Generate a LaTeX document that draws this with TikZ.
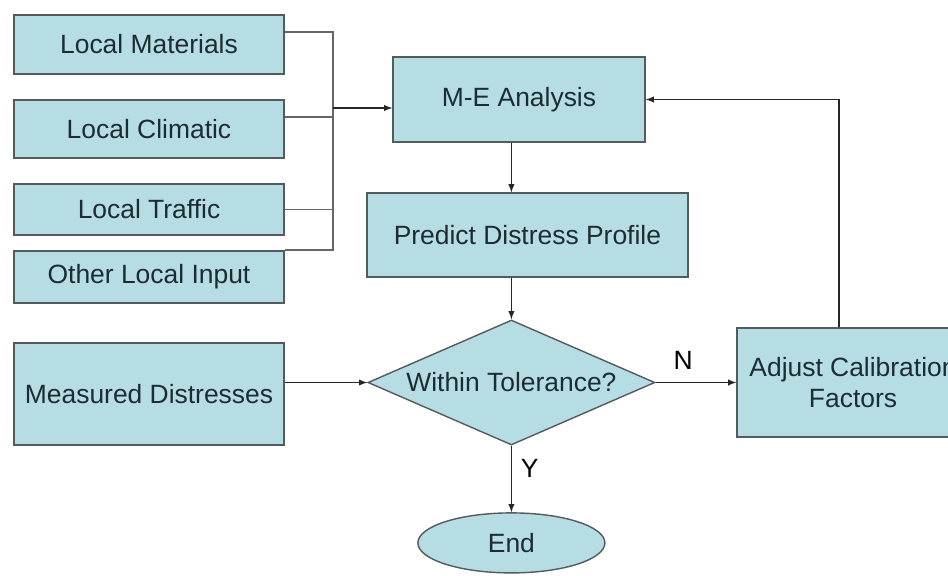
\documentclass[tikz,border=0pt]{standalone}
\usepackage{fontspec}
\setmainfont{Liberation Sans}
\usetikzlibrary{shapes.geometric,positioning}

\definecolor{boxfill}{RGB}{183,221,228}
\definecolor{boxline}{RGB}{85,90,92}
\definecolor{boxtext}{RGB}{28,44,50}

\tikzset{
	box/.style={draw=boxline,fill=boxfill,line width=1pt,text=boxtext,inner sep=0pt,align=center},
	decision/.style={box,diamond,aspect=2.3},
	terminal/.style={box,ellipse},
	wire/.style={draw=black!60,line width=1pt},
}

\begin{document}
\begin{tikzpicture}[>=latex,node distance=2cm,on grid,auto,line width=1pt,font=\fontsize{18.8pt}{22pt}\selectfont,every edge/.append style={draw=black!85}]
		\useasboundingbox (0,0) rectangle (23.7,-14.375);

		\node[box,minimum width=6.75cm,minimum height=1.475cm]	(mat)	at (3.725,-1.1125)			{Local Materials};
		\node[box,minimum width=6.75cm,minimum height=1.45cm]	(cli)	[below=2.11cm of mat]		{Local Climatic};
		\node[box,minimum width=6.75cm,minimum height=1.275cm]	(tra)	[below=2.01cm of cli]		{Local Traffic};
		\node[box,minimum width=6.75cm,minimum height=1.3cm]	(oth)	[below=1.69cm of tra]		{Other Local Input};
		\node[box,minimum width=6.75cm,minimum height=2.55cm]	(meas)	[below=2.93cm of oth]		{Measured Distresses};

		\node[box,minimum width=6.3cm,minimum height=2.125cm]	(me)	[right=9.25cm of mat, yshift=-1.375cm]	{M-E Analysis};
		\node[box,minimum width=8.025cm,minimum height=2.1cm]	(pred)	[below=3.39cm of me, xshift=0.21cm]		{Predict Distress Profile};
		\node[decision,minimum width=7.175cm,minimum height=3.125cm]	(dia)	[right=9.06cm of meas, yshift=0.29cm]	{Within Tolerance?};
		\node[box,minimum width=5.8cm,minimum height=2.725cm]	(adj)	[right=8.54cm of dia]		{Adjust Calibration\\Factors};
		\node[terminal,minimum width=4.675cm,minimum height=1.5cm]	(end)	[below=4.01cm of dia]		{End};

		% inputs joined on one bus
		\coordinate (bus) at (8.325,-2.7);
		\draw[wire]	([yshift=0.31cm]mat.east)	-| (bus);
		\draw[wire]	([yshift=0.3cm]cli.east)	-| (bus);
		\draw[wire]	(tra.east)					-| (bus);
		\draw[wire]	(oth.north east)			-| (bus);

		\path[->]	(bus)				edge							(bus -| me.west)
					(me.south -| dia)	edge							(pred.north -| dia)
					(pred.south -| dia)	edge							(dia.north)
					(meas.east |- dia)	edge							(dia.west)
					(dia.east)			edge node[above=0.18cm,pos=0.34]	{N}	(adj.west)
					(dia.south)			edge node[right=0.1cm,pos=0.34]	{Y}	(end.north);

		\draw[->,draw=black!85]	([xshift=-0.35cm]adj.north) |- (me.east);
	\end{tikzpicture}
\end{document}
